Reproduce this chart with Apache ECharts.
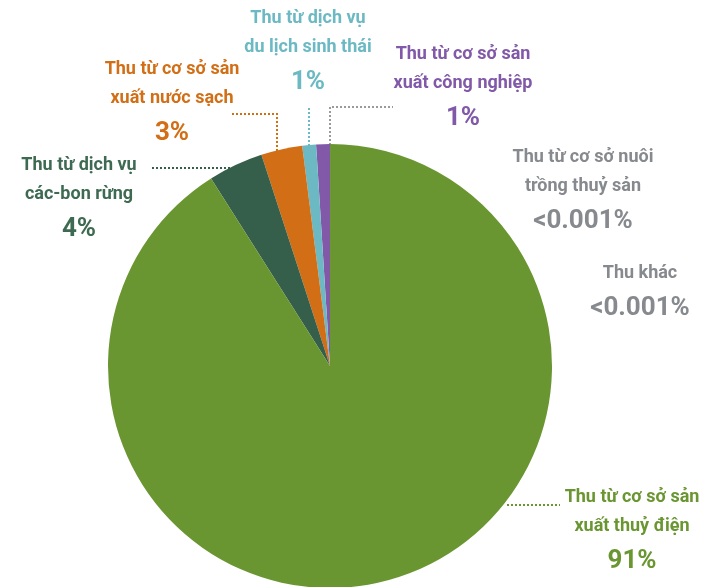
<!DOCTYPE html>
<html><head><meta charset="utf-8">
<script src="https://cdn.jsdelivr.net/npm/echarts@6/dist/echarts.min.js"></script>
<style>html,body{margin:0;padding:0;background:#fff}#c{width:707px;height:587px}</style>
</head><body><div id="c"></div>
<script>
const categories = [
  'Thu từ cơ sở sản\nxuất công nghiệp',
  'Thu từ dịch vụ\ndu lịch sinh thái',
  'Thu từ cơ sở sản\nxuất nước sạch',
  'Thu từ dịch vụ\ncác-bon rừng',
  'Thu từ cơ sở sản\nxuất thuỷ điện',
  'Thu từ cơ sở nuôi\ntrồng thuỷ sản',
  'Thu khác'
];
const values = [1, 1, 3, 4, 91, 0.001, 0.001];
const pctLabels = ['1%', '1%', '3%', '4%', '91%', '<0.001%', '<0.001%'];

const colors = ['#8159a8', '#6cb9c4', '#d26f16', '#355f4a', '#6a9631', '#6a9631', '#6a9631'];
const textColors = ['#8159a8', '#6cb9c4', '#d26f16', '#3d6a51', '#6a9631', '#86898d', '#86898d'];
const lineColors = ['#9a9a9a', '#6cb9c4', '#d26f16', '#355f4a', '#6a9631', null, null];
const labelPos = [
  [463, 40], [308, 4], [172, 55], [79, 151], [632, 483], [583, 143], [640, 259]
];
const linePts = [
  [[330,145],[330,107],[393,107]],
  [[309,146],[309,126],[309,106]],
  [[277,151],[277,114],[232,114]],
  [[234,168],[192,168],[150,168]],
  [[507,505],[533,505],[560,505]],
  null, null
];

const FONT = 'Roboto, "Liberation Sans", sans-serif';
const chart = echarts.init(document.getElementById('c'), null, {renderer: 'canvas'});
chart.setOption({
  animation: false,
  series: [{
    type: 'pie',
    center: [330, 366],
    radius: 222,
    startAngle: 90,
    clockwise: false,
    minAngle: 0,
    itemStyle: {borderWidth: 0},
    data: categories.map((n, i) => ({
      name: n,
      value: values[i],
      itemStyle: {color: colors[i]},
      label: {color: textColors[i]},
      labelLine: linePts[i] ? {show: true, lineStyle: {color: lineColors[i], type: [2, 2], width: 2}} : {show: false}
    })),
    label: {
      show: true,
      overflow: 'none',
      width: 300,
      fontFamily: FONT,
      formatter: p => {
        const lines = p.name.split('\n').map(s => '{n|' + s + '}').join('\n');
        return lines + '\n{p|' + pctLabels[p.dataIndex] + '}';
      },
      rich: {
        n: {fontFamily: FONT, fontSize: 18, fontWeight: 'bold', lineHeight: 29, align: 'center'},
        p: {fontFamily: FONT, fontSize: 26, fontWeight: 'bold', lineHeight: 40, align: 'center'}
      }
    },
    labelLine: {show: true},
    labelLayout: p => {
      const i = p.dataIndex;
      const o = {x: labelPos[i][0], y: labelPos[i][1], align: 'center', verticalAlign: 'top', hideOverlap: false, moveOverlap: null};
      if (linePts[i]) o.labelLinePoints = linePts[i];
      return o;
    }
  }]
});
</script></body></html>
